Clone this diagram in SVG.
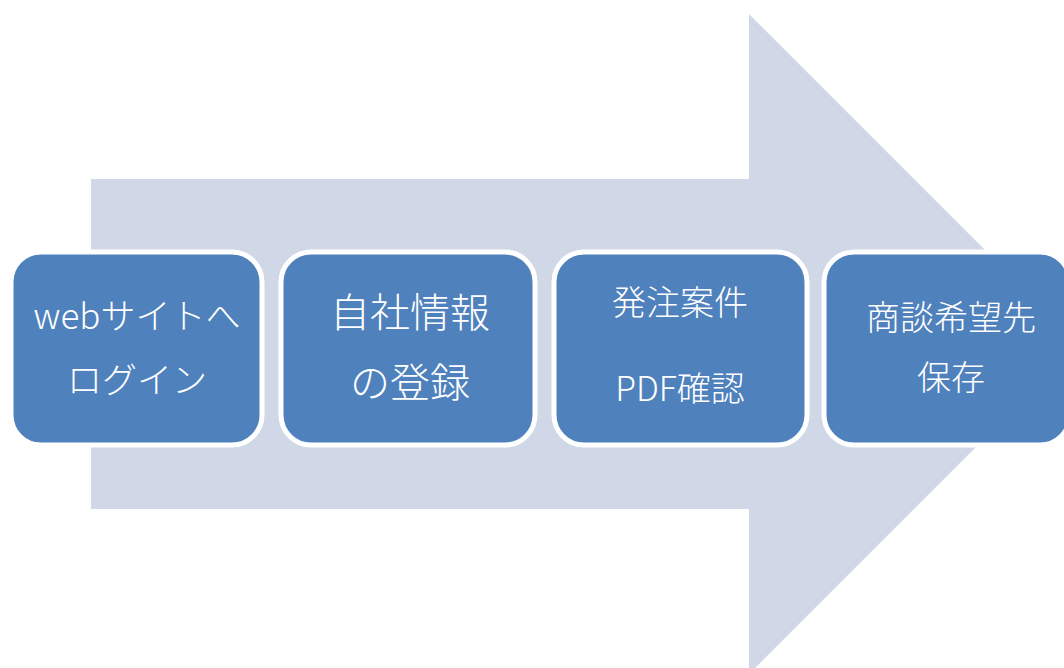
<svg xmlns="http://www.w3.org/2000/svg" width="1064" height="668" viewBox="0 0 1064 668">
<style>
.box{fill:#4F81BD;stroke:#FFFFFF;stroke-width:5}
.t{fill:#FFFFFF;font-family:"Noto Sans CJK JP","Noto Sans",sans-serif;font-weight:300;text-anchor:middle;dominant-baseline:central}
</style>
<rect width="1064" height="668" fill="#FFFFFF"/>
<g id="arrow">
<polygon points="91,179 749,179 749,14 1079,344 749,674 749,509 91,509" fill="#D0D8E8"/>
</g>
<g id="connectors"></g>
<g id="n1">
<rect class="box" x="11" y="252" width="251" height="193" rx="30"/>
<text class="t" x="137" y="313" font-size="35">webサイトへ</text>
<text class="t" x="137" y="377" font-size="35">ログイン</text>
</g>
<g id="n2">
<rect class="box" x="281" y="252" width="254" height="193" rx="30"/>
<text class="t" x="410" y="310" font-size="40">自社情報</text>
<text class="t" x="410" y="380" font-size="40">の登録</text>
</g>
<g id="n3">
<rect class="box" x="554" y="252" width="253" height="193" rx="30"/>
<text class="t" x="680" y="300" font-size="34">発注案件</text>
<text class="t" x="680" y="386" font-size="34">PDF確認</text>
</g>
<g id="n4">
<rect class="box" x="824" y="252" width="246" height="193" rx="30"/>
<text class="t" x="951" y="315" font-size="34">商談希望先</text>
<text class="t" x="951" y="375" font-size="34">保存</text>
</g>
</svg>
